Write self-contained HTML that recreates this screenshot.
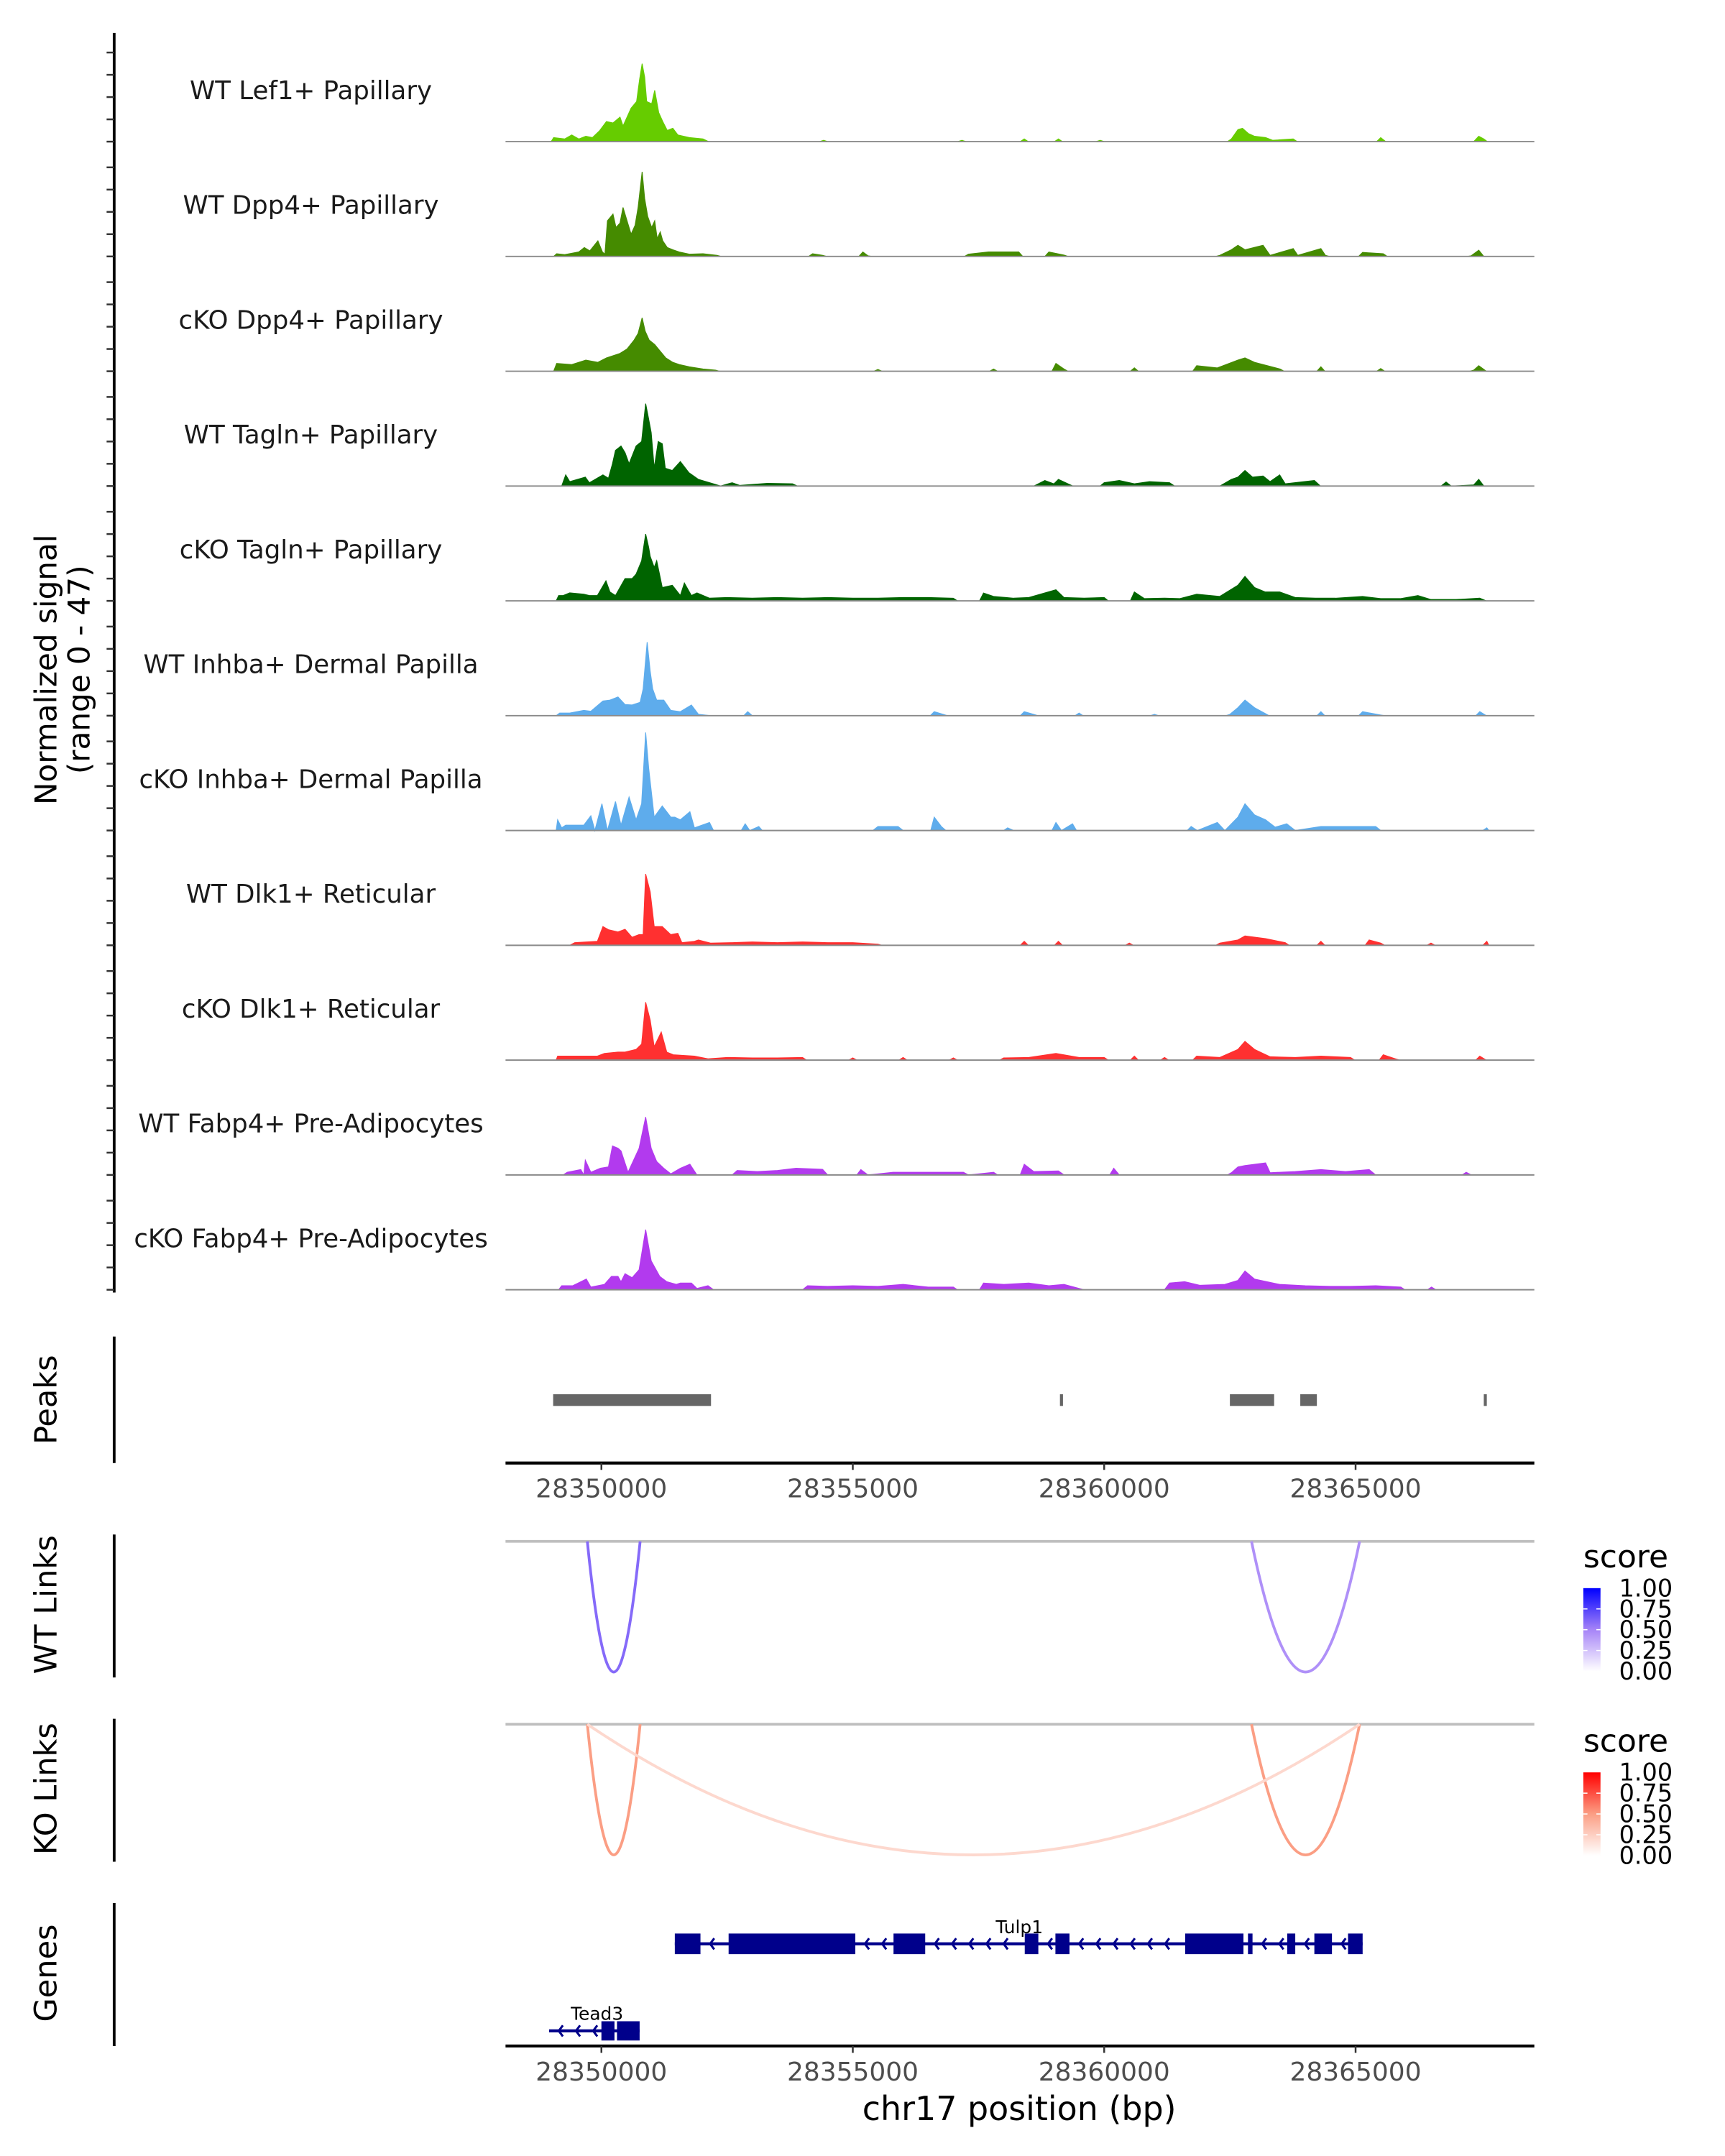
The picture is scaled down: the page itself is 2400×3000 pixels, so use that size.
<!DOCTYPE html>
<html><head><meta charset="utf-8">
<style>
html,body{margin:0;padding:0;background:#fff;}
svg{display:block;font-family:"DejaVu Sans","Liberation Sans",sans-serif;}
</style></head>
<body>
<svg id="chart" xmlns="http://www.w3.org/2000/svg" width="2400" height="3000" viewBox="0 0 1254 1568" preserveAspectRatio="none"></svg>
<script>
// ---- data ----  (positions: kb offset from chr17:28,300,000)
const trackNames = ["WT Lef1+ Papillary","WT Dpp4+ Papillary","cKO Dpp4+ Papillary","WT Tagln+ Papillary","cKO Tagln+ Papillary","WT Inhba+ Dermal Papilla","cKO Inhba+ Dermal Papilla","WT Dlk1+ Reticular","cKO Dlk1+ Reticular","WT Fabp4+ Pre-Adipocytes","cKO Fabp4+ Pre-Adipocytes"];
const trackColors = ["#66cc00","#458b00","#458b00","#006400","#006400","#5eacec","#5eacec","#ff3030","#ff3030","#b23aee","#b23aee"];
const sigLef1WT = [[49.00,0],[49.05,1.8],[49.27,1.2],[49.41,3],[49.55,1.2],[49.69,2.4],[49.82,1.8],[49.96,4.8],[50.10,9],[50.23,8.4],[50.37,11],[50.43,7],[50.59,15],[50.70,18],[50.76,28],[50.81,35],[50.86,29],[50.90,18],[51.00,17],[51.06,23],[51.14,13],[51.22,9],[51.31,5],[51.42,6],[51.52,3],[51.75,1.8],[52.02,1.2],[52.13,0],[54.42,0.6],[57.17,0.6],[58.41,1.2],[59.09,1.2],[59.92,0.6],[62.53,1.2],[62.66,5.4],[62.75,6],[62.87,3.6],[62.99,2.4],[63.21,1.8],[63.35,0.6],[63.76,1.2],[65.5,1.8],[65.6,0],[67.35,0],[67.45,2.4],[67.55,1.2],[67.62,0]];
const sigDpp4WT = [[49.05,0],[49.11,1.2],[49.27,0.8],[49.55,2],[49.66,4],[49.77,2.5],[49.93,7],[50.02,2],[50.07,1],[50.12,16],[50.23,19],[50.29,13],[50.37,15],[50.43,22],[50.51,16],[50.59,10],[50.67,14],[50.73,22],[50.81,38],[50.86,26],[50.92,18],[51.00,13],[51.06,16],[51.11,8],[51.17,11],[51.22,7],[51.31,4],[51.42,3],[51.55,2],[51.75,1],[52.02,1.2],[52.3,0.5],[54.2,1.2],[54.4,0.5],[55.2,2],[55.3,0.3],[57.3,1],[57.7,2],[58.3,2],[58.9,2],[59.2,0.6],[62.3,0.5],[62.53,3],[62.66,5],[62.8,3],[63.16,5],[63.3,0.5],[63.76,3.5],[63.85,0.5],[64.31,3.5],[64.4,0.5],[65.14,1.8],[65.55,1.2],[67.3,0.3],[67.45,2.8],[67.55,0]];
const sigDpp4KO = [[49.05,0],[49.11,3.5],[49.41,3],[49.69,5],[49.93,4],[50.10,6],[50.37,8],[50.51,10],[50.65,14],[50.73,17],[50.81,24],[50.87,18],[50.95,14],[51.06,12],[51.17,9],[51.28,6],[51.42,4],[51.55,3],[51.75,2],[52.02,1],[52.27,0.5],[55.5,0.8],[57.8,1],[59.04,3.5],[59.2,1],[60.6,1.5],[61.84,2.5],[62.25,1.5],[62.66,5],[62.80,6],[62.99,4],[63.16,3],[63.5,1],[64.31,2],[65.5,1.2],[67.35,0.5],[67.45,2.5],[67.6,0]];
const sigTaglnWT = [[49.21,0],[49.29,5],[49.37,2],[49.68,4],[49.76,1.5],[50.03,5],[50.14,3.5],[50.22,10],[50.28,16],[50.39,18],[50.47,15],[50.55,10],[50.69,18],[50.80,20],[50.88,37],[50.94,30],[50.99,24],[51.05,8],[51.13,20],[51.21,19],[51.27,8],[51.41,7],[51.57,11],[51.74,6],[51.93,3],[52.23,1],[52.37,0],[52.6,1.5],[52.75,0.3],[53.3,1.2],[53.8,1],[53.9,0],[58.6,0],[58.82,2.5],[59.0,1],[59.09,3],[59.3,0.8],[60.0,1.5],[60.3,2.5],[60.6,1],[60.9,2],[61.3,1.5],[61.4,0],[62.3,0],[62.53,3],[62.66,4],[62.80,7],[62.95,4],[63.16,4.5],[63.3,2],[63.49,5],[63.6,1],[64.18,2.5],[64.3,0],[66.7,0],[66.8,1.8],[66.9,0],[67.35,0.5],[67.45,3],[67.55,0]];
const sigTaglnKO = [[49.10,0],[49.15,2.4],[49.24,2.4],[49.37,3.6],[49.65,3],[49.76,2.4],[49.92,2.4],[50.09,9],[50.17,4],[50.28,2.4],[50.47,10],[50.61,10],[50.69,12],[50.80,18],[50.88,30],[50.94,24],[50.97,20],[51.05,15],[51.10,18],[51.21,6],[51.41,7],[51.57,2.4],[51.65,8],[51.79,2.4],[51.90,3.6],[52.15,1.2],[52.5,1.5],[53.0,1.2],[53.5,1.5],[54.0,1.2],[54.5,1.5],[55.0,1.2],[55.5,1.2],[56.0,1.5],[56.5,1.5],[57.0,1.2],[57.6,3.5],[57.8,2],[58.2,1.2],[58.5,1.5],[59.04,5],[59.2,1.5],[59.6,1.2],[60.0,1.5],[60.6,4],[60.8,1],[61.2,1.2],[61.5,1],[61.84,3],[62.3,2],[62.66,7],[62.80,11],[62.99,6],[63.2,4],[63.49,4],[63.8,1.5],[64.2,1.2],[64.6,1.2],[65.14,2],[65.5,1],[65.9,1],[66.24,2.4],[66.5,0.6],[67.0,0.6],[67.47,1.2],[67.6,0]];
const sigInhbaWT = [[49.10,0],[49.17,1.2],[49.37,1.2],[49.65,2.4],[49.79,2],[50.03,6.6],[50.17,7],[50.33,8.4],[50.47,5],[50.61,4.8],[50.77,6],[50.83,12],[50.91,33],[50.97,20],[51.02,12],[51.10,7],[51.24,7],[51.27,6],[51.38,2.4],[51.57,1.8],[51.79,4.8],[51.93,0.6],[52.17,0],[52.91,1.8],[53.0,0],[55.0,0],[56.62,1.8],[56.8,0.6],[58.41,1.8],[58.6,0.6],[59.5,1.2],[61.0,0.6],[62.5,0.6],[62.66,3.6],[62.80,7],[62.99,3.6],[63.2,1],[64.31,1.8],[65.14,1.8],[65.5,0.3],[67.47,1.8],[67.6,0]];
const sigInhbaKO = [[49.10,0],[49.13,4.8],[49.21,1.2],[49.29,2.4],[49.65,2.4],[49.79,6.6],[49.87,0],[50.01,12],[50.12,0],[50.28,13],[50.39,2.4],[50.55,15],[50.69,4.8],[50.80,12],[50.88,44],[50.94,28],[50.99,18],[51.05,6],[51.21,11],[51.38,6],[51.46,6],[51.57,4.8],[51.76,8.4],[51.85,1.2],[52.15,3.6],[52.23,0],[52.86,3],[52.95,0],[53.13,1.8],[53.2,0],[55.4,0],[55.5,1.8],[55.9,1.8],[56.0,0],[56.55,0],[56.62,6],[56.76,1.8],[56.85,0],[58.08,1.2],[58.2,0],[59.04,3.6],[59.15,0],[59.37,3],[59.45,0],[61.73,1.8],[61.85,0],[62.25,3.6],[62.4,0],[62.66,6],[62.80,12],[62.99,7],[63.21,4.8],[63.4,1.5],[63.63,3],[63.8,0],[64.31,1.8],[64.86,1.8],[65.4,1.8],[65.5,0],[67.61,1.2],[67.65,0]];
const sigDlk1WT = [[49.37,0],[49.47,1.2],[49.92,1.8],[50.03,8.4],[50.14,7],[50.33,6],[50.47,7.2],[50.61,3.6],[50.75,4.8],[50.83,4.8],[50.88,32],[50.97,24],[51.05,8.4],[51.21,8.4],[51.38,4.8],[51.52,5.4],[51.60,1.2],[51.85,1.8],[51.93,2.4],[52.17,1],[52.6,1.2],[53.0,1.5],[53.5,1.2],[54.0,1.5],[54.5,1.2],[55.0,1.2],[55.5,0.5],[58.41,1.8],[59.09,1.8],[60.5,1],[62.3,1],[62.66,2.4],[62.80,4.2],[63.21,3],[63.6,1.2],[64.31,1.8],[65.27,2.4],[65.5,1],[66.5,1],[67.61,1.8],[67.65,0]];
const sigDlk1KO = [[49.10,0],[49.13,1.8],[49.5,1.8],[49.92,1.8],[50.06,3],[50.33,3.6],[50.47,3.6],[50.69,4.8],[50.80,7.2],[50.88,26],[50.97,18],[51.05,6],[51.19,12.6],[51.30,3.6],[51.43,2.4],[51.85,1.8],[52.12,0.6],[52.5,1.2],[53.0,1],[53.5,1],[54.0,1.2],[55.0,1],[56.0,1.2],[57.0,1],[58.0,1],[58.5,1.2],[59.04,3],[59.5,1.2],[60.0,1.2],[60.60,1.8],[61.2,1.2],[61.84,1.8],[62.3,1.2],[62.66,4.8],[62.80,8.4],[62.99,4.8],[63.3,1.5],[63.8,1.2],[64.31,1.8],[64.9,1.2],[65.55,2.4],[65.8,0.5],[67.47,1.8],[67.6,0]];
const sigFabp4WT = [[49.24,0],[49.32,1.2],[49.59,2.4],[49.65,0],[49.68,6.6],[49.79,1.2],[49.98,3],[50.14,3.6],[50.22,13],[50.33,12],[50.39,10.8],[50.53,1.2],[50.75,12],[50.88,26],[50.99,12],[51.10,6],[51.24,3],[51.38,0.5],[51.57,3],[51.76,4.8],[51.90,0],[52.6,0],[52.7,2],[53.1,1.5],[53.5,2],[53.87,3],[54.4,2.5],[54.5,0],[55.16,2.4],[55.3,0],[55.8,1.2],[56.2,1.2],[56.62,1.2],[57.2,1.2],[57.3,0],[57.8,1.2],[58.41,4.8],[58.6,1.5],[59.09,1.8],[59.2,0],[60.19,3],[60.3,0],[62.53,1],[62.66,3.6],[62.80,4.2],[63.21,5.4],[63.3,1],[63.8,1.5],[64.31,2.4],[64.8,1.5],[65.27,2.4],[65.4,0],[67.20,1.2],[67.3,0]];
const sigFabp4KO = [[49.15,0],[49.21,1.8],[49.43,1.8],[49.70,4.8],[49.79,1.2],[50.06,2.4],[50.20,6],[50.33,6],[50.39,3.6],[50.47,7.2],[50.61,5.4],[50.75,9],[50.88,27],[50.99,13],[51.16,6],[51.30,3.6],[51.49,2.4],[51.57,3],[51.79,3],[51.90,0.6],[52.12,1.8],[52.23,0],[54.0,0],[54.1,1.8],[54.5,1.5],[55.0,1.8],[55.5,1.5],[56.0,2.4],[56.5,1.2],[57.0,1.2],[57.6,3],[58.0,2.4],[58.5,3],[58.9,1.8],[59.2,2.4],[59.6,0],[61.2,0],[61.3,3],[61.6,3.6],[61.9,2],[62.4,2.4],[62.66,4.2],[62.80,8.4],[62.99,4.8],[63.49,2.4],[64.0,1.8],[64.5,1.5],[64.9,1.5],[65.4,1.8],[65.9,1.2],[66.51,1.2],[66.6,0]];
const signals = [sigLef1WT,sigDpp4WT,sigDpp4KO,sigTaglnWT,sigTaglnKO,sigInhbaWT,sigInhbaKO,sigDlk1WT,sigDlk1KO,sigFabp4WT,sigFabp4KO];
const peakStarts = [49.04,59.12,62.50,63.90,67.55];
const peakEnds   = [52.18,59.18,63.38,64.23,67.60];
const xTicks = [28350000,28355000,28360000,28365000];
const wtLinkStart = [49.72,62.93];
const wtLinkEnd   = [50.77,65.08];
const wtLinkScore = [0.6,0.45];
const koLinkStart = [49.72,62.93,49.72];
const koLinkEnd   = [50.77,65.08,65.08];
const koLinkScore = [0.5,0.5,0.2];
const legendTicks = ["1.00","0.75","0.50","0.25","0.00"];
const tulp1Exons = [[51.46,51.97],[52.53,55.05],[55.81,56.44],[58.42,58.69],[59.03,59.31],[61.61,62.77],[62.86,62.95],[63.64,63.80],[64.18,64.53],[64.85,65.14]];
const tead3Exons = [[50.00,50.26],[50.31,50.76]];
const tead3Span = [48.96,50.76];
const tulp1Span = [51.46,65.14];

// ---- scales ----
const NS="http://www.w3.org/2000/svg";
const svg=document.getElementById('chart');
const ORIGIN_KB = 28300;
const xScale = kb => 437.2 + (kb + ORIGIN_KB - 28350)*36.55;
const bpScale = bp => xScale(bp/1000 - ORIGIN_KB);
const PLOT_L=367.5, PLOT_R=1115.4;
const UNIT=1.62;
const GAP_KB=0.6, RAMP_KB=0.08;
const baseY = i => 103 + 83.5*i;
function mk(tag,attrs,parent){const e=document.createElementNS(NS,tag);for(const k in attrs)e.setAttribute(k,attrs[k]);(parent||svg).appendChild(e);return e;}
function txt(s,attrs,parent){const e=mk('text',attrs,parent);e.textContent=s;return e;}

const covAxis=mk('line',{x1:83,y1:24,x2:83,y2:940,stroke:'#000','stroke-width':2});


for(let i=0;i<11;i++){for(let k=0;k<5;k++){const y=baseY(i)-k*10*UNIT;const t=mk('line',{x1:77.5,y1:y,x2:83,y2:y,stroke:'#333','stroke-width':1.3});

}}
const yt=txt('Normalized signal',{x:0,y:0,'font-size':22,'text-anchor':'middle',fill:'#000',transform:'translate(41,487) rotate(-90)'});


const yt2=txt('(range 0 - 47)',{x:0,y:0,'font-size':22,'text-anchor':'middle',fill:'#000',transform:'translate(65,487) rotate(-90)'});



signals.forEach((pts,i)=>{
  const b=baseY(i);
  const g=mk('g',{});
  
  
  const Y=v=>(b-v*UNIT).toFixed(2), X=k=>xScale(k).toFixed(2);
  let d='M'+X(pts[0][0])+','+b;
  pts.forEach((p,j)=>{
    if(j>0){const q=pts[j-1];
      if(p[0]-q[0]>GAP_KB && (q[1]>0||p[1]>0)){d+=' L'+X(q[0]+RAMP_KB)+','+b+' L'+X(p[0]-RAMP_KB)+','+b;}
    }
    d+=' L'+X(p[0])+','+Y(p[1]);
  });
  d+=' L'+X(pts[pts.length-1][0])+','+b+' Z';
  const a=mk('path',{d:d,fill:trackColors[i],stroke:trackColors[i],'stroke-width':0.6},g);
  
  
  const bl=mk('line',{x1:PLOT_L,y1:b,x2:PLOT_R,y2:b,stroke:'#8a8a8a','stroke-width':1},g);
  
  
  const lb=txt(trackNames[i],{x:226,y:b-37,'font-size':18.6,'text-anchor':'middle','dominant-baseline':'central',fill:'#1a1a1a'},g);
  
  
});

function sideLabel(s,yc,y1,y2,name){
  const t=txt(s,{x:0,y:0,'font-size':22.5,'text-anchor':'middle',fill:'#000',transform:'translate(41,'+yc+') rotate(-90)'});
  
  
  const l=mk('line',{x1:83,y1:y1,x2:83,y2:y2,stroke:'#000','stroke-width':2});
  
  
}
sideLabel('Peaks',1018,972,1064,'peaks');
sideLabel('WT Links',1167,1116,1220,'wt-links');
sideLabel('KO Links',1301,1250,1354,'ko-links');
sideLabel('Genes',1435,1384,1488,'genes');

peakStarts.forEach((s,i)=>{
  const x1=xScale(s),x2=Math.max(xScale(peakEnds[i]),x1+2.2);
  const r=mk('rect',{x:x1,y:1014,width:x2-x1,height:8.5,fill:'#666666'});
  
  
});
function xAxis(y,name){
  const l=mk('line',{x1:PLOT_L,y1:y,x2:PLOT_R,y2:y,stroke:'#000','stroke-width':2.2});
  
  
  xTicks.forEach(t=>{const x=bpScale(t);
    const tk=mk('line',{x1:x,y1:y,x2:x,y2:y+5,stroke:'#333','stroke-width':1.3});
    
    
    const tl=txt(String(t),{x:x,y:y+25,'font-size':18.8,'text-anchor':'middle',fill:'#4d4d4d'});
    
    
  });
}
xAxis(1064,'peaks-x-axis');

function mixColor(s,mid,hi){
  const lo=[255,255,255];let a,b,t;
  if(s<=0.5){a=lo;b=mid;t=s/0.5;}else{a=mid;b=hi;t=(s-0.5)/0.5;}
  return 'rgb('+a.map((v,k)=>Math.round(v+(b[k]-v)*t)).join(',')+')';
}
const BLUE_MID=[166,132,247],BLUE_HI=[0,0,255],RED_MID=[251,158,132],RED_HI=[255,0,0];
function linkPanel(y0,starts,ends,scores,mid,hi,name){
  const bl=mk('line',{x1:PLOT_L,y1:y0,x2:PLOT_R,y2:y0,stroke:'#bebebe','stroke-width':2});
  
  
  const depth=95;
  starts.forEach((s,i)=>{
    const x1=xScale(s),x2=xScale(ends[i]),xm=(x1+x2)/2;
    const p=mk('path',{d:'M'+x1+','+y0+' Q'+xm+','+(y0+2*depth)+' '+x2+','+y0,fill:'none',stroke:mixColor(scores[i],mid,hi),'stroke-width':2});
    
    
  });
}
linkPanel(1121,wtLinkStart,wtLinkEnd,wtLinkScore,BLUE_MID,BLUE_HI,'wt-link');
linkPanel(1254,koLinkStart,koLinkEnd,koLinkScore,RED_MID,RED_HI,'ko-link');

const defs=mk('defs',{});
function grad(id,hi){const g=mk('linearGradient',{id:id,x1:0,y1:1,x2:0,y2:0},defs);
  mk('stop',{offset:0,'stop-color':'#ffffff'},g);
  mk('stop',{offset:0.5,'stop-color':hi==='b'?'#a684f7':'#fb9e84'},g);
  mk('stop',{offset:1,'stop-color':hi==='b'?'#0000ff':'#ff0000'},g);}
grad('gb','b');grad('gr','r');
function legend(y0,gid,name){
  const t=txt('score',{x:1151,y:y0,'font-size':23,fill:'#000'});
  
  
  const top=y0+15,h=60.5;
  const r=mk('rect',{x:1151,y:top,width:12.5,height:h,fill:'url(#'+gid+')'});
  
  
  legendTicks.forEach((s,k)=>{const y=top+k*h/4;
    const tl=txt(s,{x:1177,y:y,'font-size':17.5,fill:'#000','dominant-baseline':'central'});
    
    
    if(k>0&&k<4){mk('line',{x1:1151,y1:y,x2:1154,y2:y,stroke:'#fff','stroke-width':0.8});mk('line',{x1:1160.5,y1:y,x2:1163.5,y2:y,stroke:'#fff','stroke-width':0.8});}
  });
}
legend(1140,'gb','wt-legend');
legend(1274,'gr','ko-legend');

const GENE='#00008b';
function chevrons(x1,x2,y,g){
  for(let x=x1+7;x<x2-4;x+=12.5){
    const c=mk('polyline',{points:(x+3)+','+(y-4)+' '+x+','+y+' '+(x+3)+','+(y+4),fill:'none',stroke:GENE,'stroke-width':1.6},g);
    
    
  }
}
function gene(name,span,exons,y,labelX,labelY,h){
  const g=mk('g',{});
  
  
  const l=mk('line',{x1:xScale(span[0]),y1:y,x2:xScale(span[1]),y2:y,stroke:GENE,'stroke-width':2.2},g);
  
  
  let prev=span[0];
  exons.forEach(e=>{ if(xScale(e[0])-xScale(prev)>10) chevrons(xScale(prev),xScale(e[0]),y,g); prev=e[1];});
  exons.forEach(e=>{const r=mk('rect',{x:xScale(e[0]),y:y-h/2,width:Math.max(xScale(e[1])-xScale(e[0]),2),height:h,fill:GENE},g);
    
    });
  const t=txt(name,{x:labelX,y:labelY,'font-size':13,'text-anchor':'middle',fill:'#000'},g);
  
  
}
gene('Tulp1',tulp1Span,tulp1Exons,1413.7,741,1406,15);
gene('Tead3',tead3Span,tead3Exons,1477,434,1469,14);
xAxis(1488,'genes-x-axis');
const xt=txt('chr17 position (bp)',{x:741,y:1542,'font-size':24,'text-anchor':'middle',fill:'#000'});


</script>
</body></html>
